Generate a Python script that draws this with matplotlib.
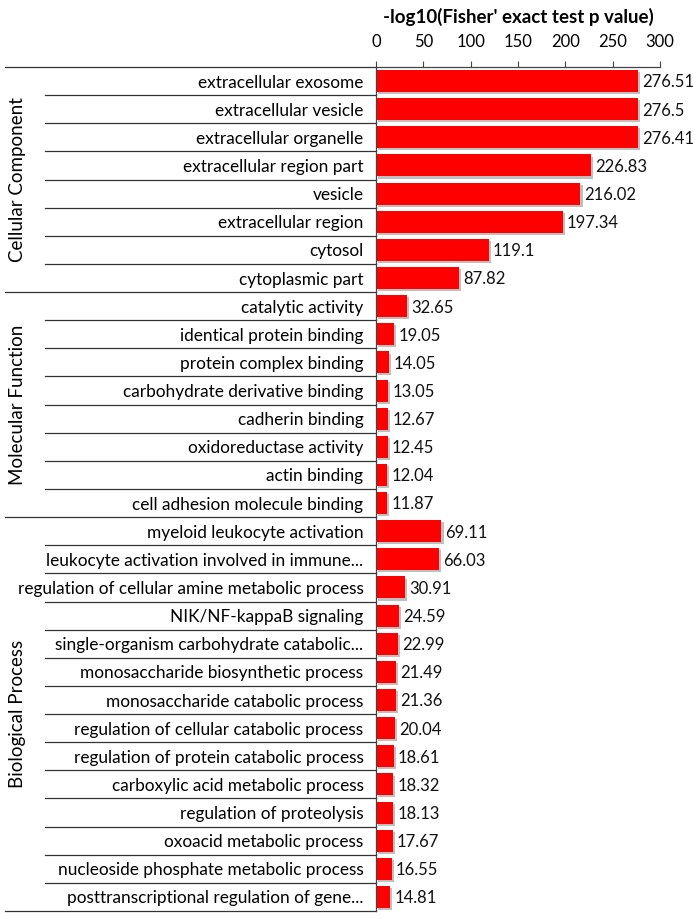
import matplotlib
matplotlib.use("Agg")
import matplotlib.pyplot as plt
import matplotlib.transforms as mtransforms
import matplotlib.patheffects as pe
import numpy as np

plt.rcParams['font.family'] = ['Lato', 'DejaVu Sans']

groups = ["Cellular Component", "Molecular Function", "Biological Process"]

cc_terms = ["extracellular exosome", "extracellular vesicle", "extracellular organelle",
            "extracellular region part", "vesicle", "extracellular region",
            "cytosol", "cytoplasmic part"]
cc_values = [276.51, 276.5, 276.41, 226.83, 216.02, 197.34, 119.1, 87.82]

mf_terms = ["catalytic activity", "identical protein binding", "protein complex binding",
            "carbohydrate derivative binding", "cadherin binding", "oxidoreductase activity",
            "actin binding", "cell adhesion molecule binding"]
mf_values = [32.65, 19.05, 14.05, 13.05, 12.67, 12.45, 12.04, 11.87]

bp_terms = ["myeloid leukocyte activation", "leukocyte activation involved in immune...",
            "regulation of cellular amine metabolic process", "NIK/NF-kappaB signaling",
            "single-organism carbohydrate catabolic...", "monosaccharide biosynthetic process",
            "monosaccharide catabolic process", "regulation of cellular catabolic process",
            "regulation of protein catabolic process", "carboxylic acid metabolic process",
            "regulation of proteolysis", "oxoacid metabolic process",
            "nucleoside phosphate metabolic process", "posttranscriptional regulation of gene..."]
bp_values = [69.11, 66.03, 30.91, 24.59, 22.99, 21.49, 21.36, 20.04, 18.61, 18.32,
             18.13, 17.67, 16.55, 14.81]

terms = cc_terms + mf_terms + bp_terms
values = cc_values + mf_values + bp_values
group_sizes = [len(cc_terms), len(mf_terms), len(bp_terms)]

W, H = 693, 919
fig = plt.figure(figsize=(W / 100, H / 100), dpi=100)
ax = fig.add_axes([376 / W, 1 - 911 / H, (660 - 376) / W, (911 - 67) / H])

y = np.arange(len(terms))
bars = ax.barh(y, values, height=0.78, color="#ff0000")
for b in bars:
    b.set_path_effects([pe.SimplePatchShadow(offset=(1.5, -1.5), shadow_rgbFace="#b0b0b0", alpha=0.8),
                        pe.Normal()])

for yi, v in zip(y, values):
    ax.annotate(f"{v:g}", (v, yi), xytext=(3, -1), textcoords="offset points",
                ha="left", va="center", fontsize=12, color="#111111")

ax.set_xlim(0, 300)
ax.set_ylim(len(terms) - 0.5, -0.5)
ax.xaxis.tick_top()
ax.xaxis.set_label_position("top")
ax.set_xticks(np.arange(0, 301, 50))
ax.tick_params(axis="x", length=4, width=0.8, color="#444444", labelsize=12, pad=8)
ax.set_xlabel("-log10(Fisher' exact test p value)", fontsize=13.5, fontweight="bold", labelpad=8)
ax.set_yticks(y)
ax.set_yticklabels(terms, fontsize=12.4)
ax.tick_params(axis="y", length=0, pad=9)
for s in ["right", "bottom"]:
    ax.spines[s].set_visible(False)
ax.spines["top"].set_color("#444444")
ax.spines["left"].set_color("#444444")
ax.spines["top"].set_linewidth(0.9)
ax.spines["left"].set_linewidth(0.9)

# row separators in figure x / data y
trans = mtransforms.blended_transform_factory(fig.transFigure, ax.transData)
bounds = np.cumsum([0] + group_sizes)
for i in range(len(terms) + 1):
    yb = i - 0.5
    x0 = 5 / W if i in bounds else 45 / W
    ax.plot([x0, 376 / W], [yb, yb], color="#333333", lw=0.9,
            transform=trans, clip_on=False)

for g, start, n in zip(groups, bounds[:-1], group_sizes):
    ax.text(18 / W, start + (n - 1) / 2, g, transform=trans, rotation=90,
            ha="center", va="center", fontsize=13.5)

fig.savefig("out.png", dpi=100)
